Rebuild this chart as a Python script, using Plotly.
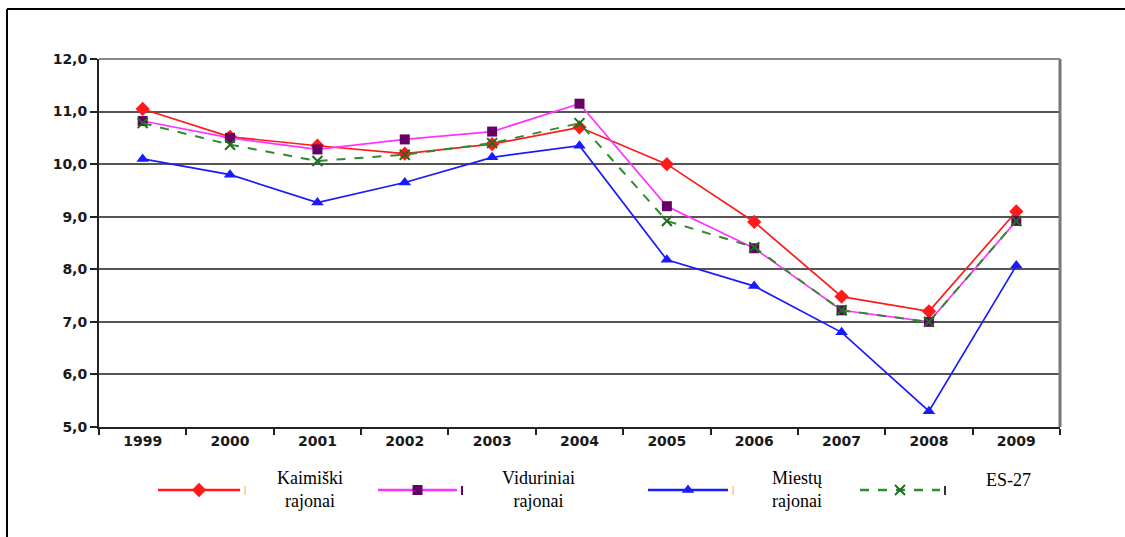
import plotly.graph_objects as go

# Data
years = ["1999", "2000", "2001", "2002", "2003", "2004", "2005", "2006", "2007", "2008", "2009"]
kaimiski = [11.05, 10.52, 10.35, 10.20, 10.38, 10.70, 10.00, 8.90, 7.48, 7.20, 9.10]
viduriniai = [10.82, 10.50, 10.28, 10.47, 10.62, 11.15, 9.20, 8.40, 7.22, 7.00, 8.92]
miestu = [10.10, 9.80, 9.27, 9.65, 10.13, 10.35, 8.18, 7.68, 6.80, 5.30, 8.07]
es27 = [10.78, 10.37, 10.06, 10.18, 10.40, 10.78, 8.92, 8.42, 7.22, 7.00, 8.92]

series_names = ["Kaimiški<br>rajonai", "Viduriniai<br>rajonai", "Miestų<br>rajonai", "ES-27"]

W, H = 1125, 537

styles = [
    dict(line=dict(color="#ff1a1a", width=1.7),
         marker=dict(symbol="diamond", size=11, color="#ff1a1a")),
    dict(line=dict(color="#ff33ff", width=1.7),
         marker=dict(symbol="square", size=10, color="#660066")),
    dict(line=dict(color="#1a1aff", width=1.7),
         marker=dict(symbol="triangle-up", size=11, color="#1a1aff")),
    dict(line=dict(color="#2e8b2e", width=2, dash="dash"),
         marker=dict(symbol="x-thin-open", size=10, color="#1f6e1f", line=dict(width=2, color="#1f6e1f"))),
]

fig = go.Figure()
for vals, st in zip([kaimiski, viduriniai, miestu, es27], styles):
    fig.add_trace(go.Scatter(x=years, y=vals, mode="lines+markers", showlegend=False,
                             cliponaxis=False, **st))

# custom legend drawn on a hidden pixel-mapped axis pair
leg_y = 490
leg_items = [(158, 240, 310, 478), (378, 457, 538, 478), (648, 728, 797, 478), (860, 940, 1008, 480)]
stub_colors = ["#f5d6b0", "#660066", "#f5d6b0", "#333333"]
for (x0, x1, tx, ty), st, name, sc in zip(leg_items, styles, series_names, stub_colors):
    fig.add_trace(go.Scatter(x=[x0, (x0 + x1) / 2, x1], y=[leg_y] * 3, mode="lines",
                             line=dict(st["line"], width=2.4), xaxis="x2", yaxis="y2",
                             showlegend=False, hoverinfo="skip"))
    fig.add_trace(go.Scatter(x=[(x0 + x1) / 2], y=[leg_y], mode="markers",
                             marker=st["marker"], xaxis="x2", yaxis="y2", showlegend=False,
                             hoverinfo="skip"))
    # small stub mark after each legend sample
    fig.add_shape(type="line", xref="x2", yref="y2", x0=x1 + 5, x1=x1 + 5,
                  y0=leg_y - 4, y1=leg_y + 5, line=dict(color=sc, width=2))
    two = "<br>" in name
    fig.add_annotation(x=tx, y=ty, xref="x2", yref="y2", text=name, showarrow=False,
                       font=dict(family="Liberation Serif", size=18, color="#000"),
                       align="center", yanchor="top" if two else "middle",
                       yshift=12 if two else 0)

axis_font = dict(family="DejaVu Sans", size=14, color="#1a1a1a", weight="bold")

# plot area in pixels: x 99..1060, y 59..427
fig.update_layout(
    width=W, height=H, autosize=False,
    margin=dict(l=0, r=0, t=0, b=0, autoexpand=False),
    paper_bgcolor="white", plot_bgcolor="white",
    separators=",.",
    xaxis=dict(domain=[99 / W, 1060 / W], type="category", range=[-0.5, 10.5],
               tickson="boundaries", automargin=False,
               ticks="outside", ticklen=6, tickwidth=1.5, tickcolor="#222",
               showline=True, linecolor="#222", linewidth=2, mirror=False,
               showgrid=False, zeroline=False, tickfont=axis_font),
    yaxis=dict(domain=[(H - 427) / H, (H - 59) / H], range=[5, 12], dtick=1,
               automargin=False,
               tickformat=".1f", ticks="outside", ticklen=7, tickwidth=1.5, tickcolor="#222",
               showline=True, linecolor="#222", linewidth=2,
               showgrid=True, gridcolor="#555", gridwidth=1.8, zeroline=False,
               tickfont=axis_font),
    xaxis2=dict(domain=[0, 1], range=[0, W], visible=False, anchor="y2", automargin=False),
    yaxis2=dict(domain=[(H - 520) / H, (H - 455) / H], range=[520, 455], visible=False,
                anchor="x2", automargin=False),
)

# right border of plot area, top gridline lighter, outer frame
fig.add_shape(type="line", xref="paper", yref="paper", x0=1060 / W, x1=1060 / W,
              y0=(H - 427) / H, y1=(H - 59) / H, line=dict(color="#777", width=3))
fig.add_shape(type="line", xref="paper", yref="paper", x0=99 / W, x1=1060 / W,
              y0=(H - 59) / H, y1=(H - 59) / H, line=dict(color="#888", width=2))
fig.add_shape(type="line", xref="paper", yref="paper", x0=7 / W, x1=7 / W,
              y0=0, y1=(H - 9) / H, line=dict(color="#000", width=2))
fig.add_shape(type="line", xref="paper", yref="paper", x0=7 / W, x1=1,
              y0=(H - 9) / H, y1=(H - 9) / H, line=dict(color="#000", width=2))

fig.write_html("out.html", config=dict(displayModeBar=False, responsive=False),
               post_script="document.body.style.margin='0';document.body.style.overflow='hidden';")
